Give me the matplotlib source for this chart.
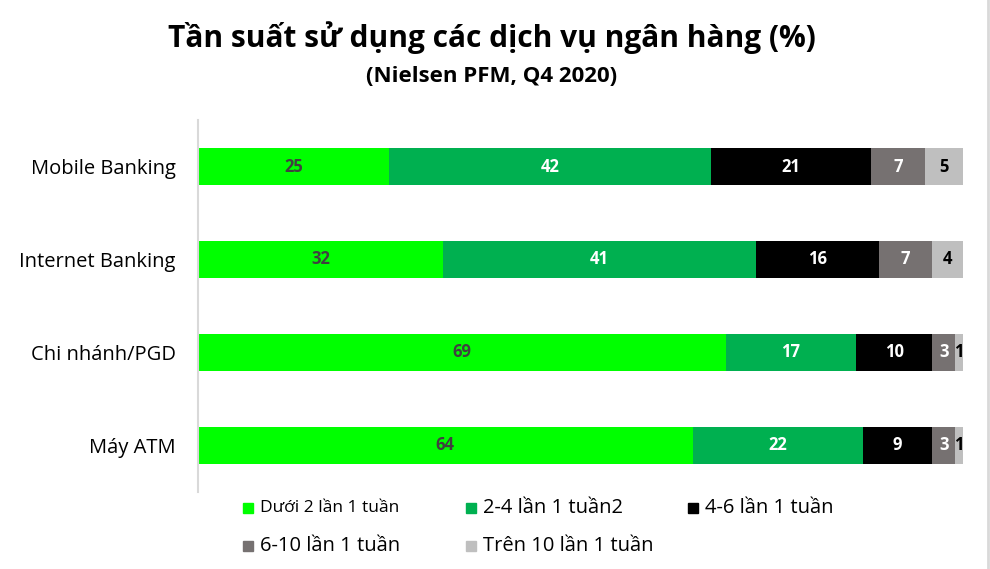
import matplotlib.pyplot as plt
from matplotlib.lines import Line2D
from matplotlib.patches import Rectangle

plt.rcParams['font.family'] = ['Open Sans', 'DejaVu Sans']

# Data
categories = ['Mobile Banking', 'Internet Banking', 'Chi nhánh/PGD', 'Máy ATM']
series_names = ['Dưới 2 lần 1 tuần', '2-4 lần 1 tuần2', '4-6 lần 1 tuần',
                '6-10 lần 1 tuần', 'Trên 10 lần 1 tuần']
under_2 = [25, 32, 69, 64]
from_2_to_4 = [42, 41, 17, 22]
from_4_to_6 = [21, 16, 10, 9]
from_6_to_10 = [7, 7, 3, 3]
over_10 = [5, 4, 1, 1]

series = [under_2, from_2_to_4, from_4_to_6, from_6_to_10, over_10]
colors = ['#00FF00', '#00B050', '#000000', '#767171', '#BFBFBF']
label_colors = ['#404040', 'white', 'white', 'white', 'black']

# 100% stacked: each row scaled to its own total
totals = [sum(row) for row in zip(*series)]

fig = plt.figure(figsize=(9.9, 5.69), dpi=100)
ax = fig.add_axes([0.2, 0.136, 0.7727, 0.653])

y = list(range(len(categories)))
left = [0] * len(categories)
for vals, col, lcol in zip(series, colors, label_colors):
    widths = [v / t * 100 for v, t in zip(vals, totals)]
    bars = ax.barh(y, widths, left=left, height=0.4, color=col, edgecolor='none')
    for b, v in zip(bars, vals):
        ax.text(b.get_x() + b.get_width() / 2, b.get_y() + b.get_height() / 2,
                str(v), ha='center', va='center', fontsize=12,
                fontweight='bold', color=lcol)
    left = [l + w for l, w in zip(left, widths)]

ax.set_xlim(0, 100)
ax.set_ylim(3.5, -0.5)
ax.set_yticks(y)
ax.set_yticklabels(categories, fontsize=14.5)
ax.tick_params(axis='y', length=0, pad=16)
ax.set_xticks([])
for s in ['top', 'right', 'bottom']:
    ax.spines[s].set_visible(False)
ax.spines['left'].set_color('#D9D9D9')
ax.spines['left'].set_linewidth(1.5)

fig.text(0.497, 0.934, 'Tần suất sử dụng các dịch vụ ngân hàng (%)',
         ha='center', va='center', fontsize=21.5, fontweight='bold')
fig.text(0.497, 0.866, '(Nielsen PFM, Q4 2020)',
         ha='center', va='center', fontsize=16, fontweight='bold')

# right border line
fig.add_artist(Line2D([0.998, 0.998], [0, 1], color='#D9D9D9', lw=2,
                      transform=fig.transFigure))

# legend drawn by hand, two rows
leg_x = [0.2455, 0.4707, 0.695, 0.2455, 0.4707]
leg_y = [0.107, 0.107, 0.107, 0.040, 0.040]
leg_size = [12.5, 14.5, 14.5, 14.5, 14.5]
for name, col, lx, ly, fs in zip(series_names, colors, leg_x, leg_y, leg_size):
    fig.add_artist(Rectangle((lx, ly - 0.009), 0.0105, 0.018, color=col,
                             transform=fig.transFigure))
    fig.text(lx + 0.017, ly, name, ha='left', va='center', fontsize=fs)

fig.savefig('out.png', dpi=100)
